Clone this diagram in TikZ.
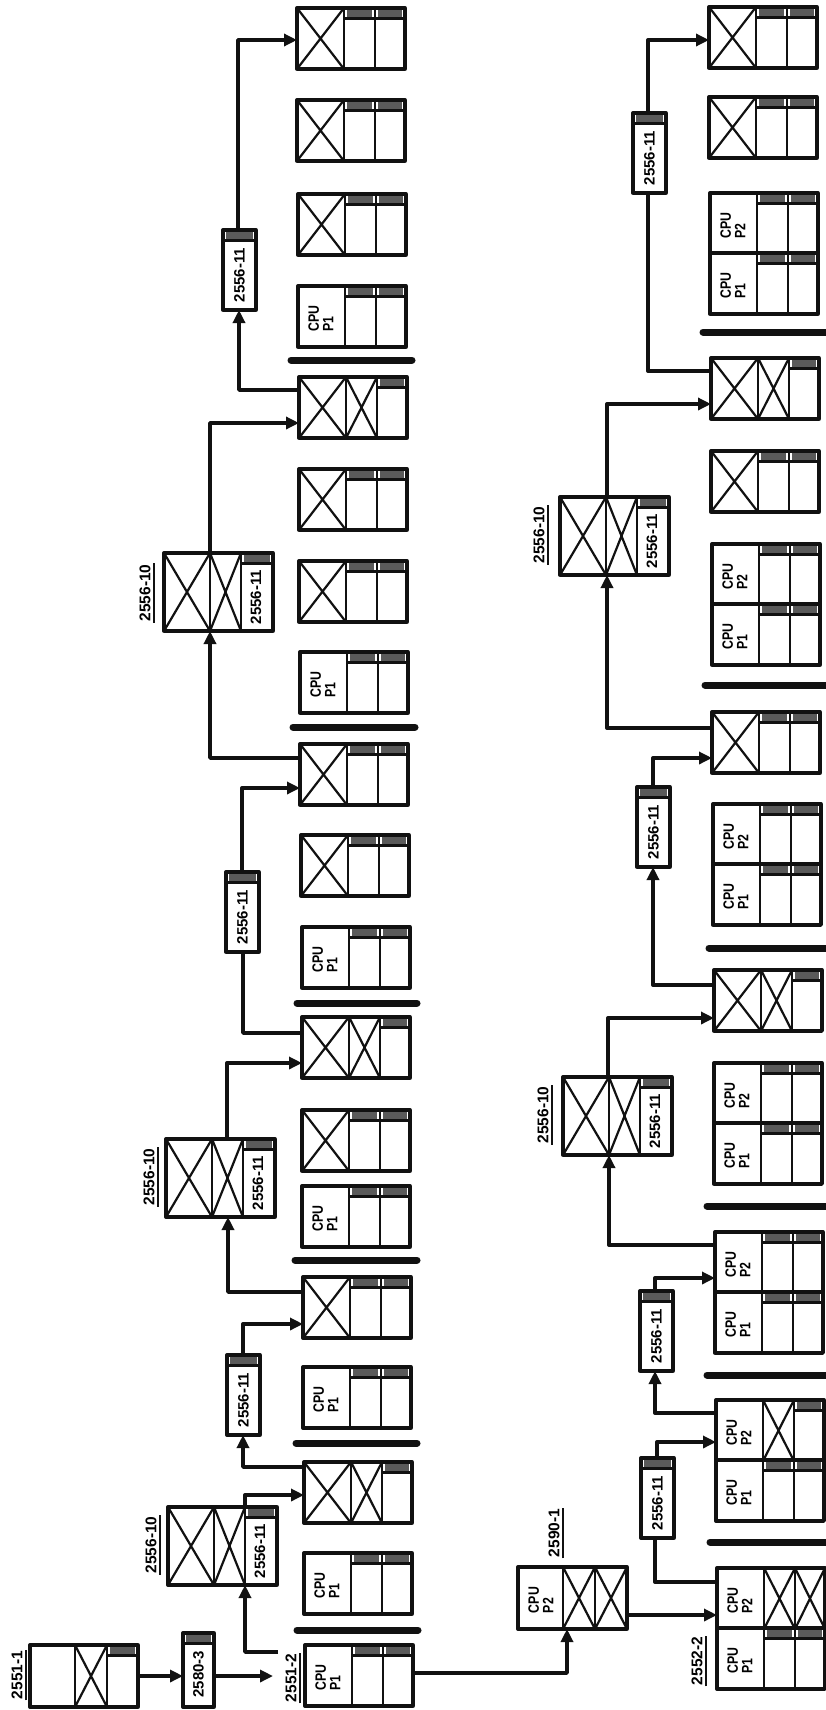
\documentclass[tikz,border=0pt]{standalone}
\usepackage{fontspec}
\setmainfont{Liberation Sans}
\newfontfamily\condfont[FakeStretch=0.82]{Liberation Sans}
\usetikzlibrary{arrows.meta,calc}
\definecolor{ink}{HTML}{111111}
\definecolor{screen}{HTML}{5A5A5A}
\tikzset{
  % ---- racks and boxes -------------------------------------------
  unit/.style     = {draw=ink, line width=3.3pt, line join=round, fill=white,
                     inner sep=0pt, outer sep=0pt, anchor=north west},
  divider/.style  = {draw=ink, line width=2.7pt},
  cross/.style    = {draw=ink, line width=2.2pt},
  screen/.style   = {fill=screen},
  % ---- texts -----------------------------------------------------
  cputext/.style  = {rotate=90, align=left, inner sep=0pt,
                     font=\condfont\bfseries\fontsize{15}{14.5}\selectfont},
  numtext/.style  = {rotate=90, inner sep=0pt,
                     font=\bfseries\fontsize{15}{15}\selectfont},
  tag/.style      = {rotate=90, inner sep=1pt,
                     font=\bfseries\fontsize{15.5}{15.5}\selectfont},
  tagline/.style  = {draw=ink, line width=2.2pt},
  % ---- connectors ------------------------------------------------
  link/.style     = {draw=ink, line width=3.4pt, line join=round,
                     -{Triangle[length=13pt,width=12pt]}},
  plain/.style    = {draw=ink, line width=3.4pt, line join=round},
  bar/.style      = {draw=ink, line width=7pt, line cap=round},
}
% ---- parts of a rack (#1 = node name) ------------------------------
\newcommand{\rkcut}[2]{\draw[divider] ([xshift=#2]#1.north west) -- ([xshift=#2]#1.south west);}
\newcommand{\rkx}[3]{\draw[cross] ([xshift=#2]#1.north west) -- ([xshift=#3]#1.south west)
  ([xshift=#3]#1.north west) -- ([xshift=#2]#1.south west);}
\newcommand{\rkstrip}[3]{\fill[screen] ([xshift=#2+3,yshift=-2]#1.north west) rectangle ([xshift=#3-3,yshift=-9.5]#1.north west);
  \draw[divider] ([xshift=#2,yshift=-10.5]#1.north west) -- ([xshift=#3,yshift=-10.5]#1.north west);}
\newcommand{\rkcpu}[2]{\node[cputext] (#1c) at ([xshift=23,yshift=-2]#1.west) {CPU\\#2};}
\newcommand{\rack}[3]{\node[unit, minimum width=108, minimum height=61] (#1) at (#2,#3) {};
  \rkcut{#1}{47}\rkcut{#1}{78}}
\newcommand{\cpurack}[4]{\rack{#1}{#2}{#3}\rkcpu{#1}{#4}\rkstrip{#1}{47}{78}\rkstrip{#1}{78}{108}}
\newcommand{\xrack}[3]{\rack{#1}{#2}{#3}\rkx{#1}{0}{47}\rkstrip{#1}{47}{78}\rkstrip{#1}{78}{108}}
\newcommand{\xxrack}[3]{\rack{#1}{#2}{#3}\rkx{#1}{0}{47}\rkx{#1}{47}{78}\rkstrip{#1}{78}{108}}
\newcommand{\boxten}[3]{\node[unit, minimum width=109, minimum height=78] (#1) at (#2,#3) {};
  \rkcut{#1}{46}\rkcut{#1}{77}\rkx{#1}{0}{46}\rkx{#1}{46}{77}\rkstrip{#1}{77}{109}
  \node[numtext] (#1n) at ([xshift=92,yshift=-44]#1.north west) {2556-11};}
\newcommand{\boxeleven}[3]{\node[unit, minimum width=33, minimum height=80] (#1) at (#2,#3) {};
  \rkstrip{#1}{0}{33}
  \node[numtext] (#1n) at ([yshift=-5]#1.center) {2556-11};}
\newcommand{\tagat}[4]{\node[tag] (#1) at (#2,#3) {#4};
  \draw[tagline] ([xshift=2]#1.south west) -- ([xshift=2]#1.south east);}

\begin{document}
\begin{tikzpicture}[x=1pt,y=-1pt]
  \useasboundingbox (0,0) rectangle (825,1710);
  % ---- first line of racks -----------------------------------------
  \cpurack{l1}{305}{1645}{P1}
  \cpurack{l2}{304}{1553}{P1}
  \xxrack{l3}{304}{1462}
  \cpurack{l4}{303}{1367}{P1}
  \xrack{l5}{303}{1277}
  \cpurack{l6}{302}{1186}{P1}
  \xrack{l7}{302}{1110}
  \xxrack{l8}{302}{1017}
  \cpurack{l9}{302}{927}{P1}
  \xrack{l10}{301}{835}
  \xrack{l11}{300}{744}
  \cpurack{l12}{300}{652}{P1}
  \xrack{l13}{299}{561}
  \xrack{l14}{299}{469}
  \xxrack{l15}{299}{377}
  \cpurack{l16}{298}{286}{P1}
  \xrack{l17}{298}{194}
  \xrack{l18}{297}{100}
  \xrack{l19}{297}{8}
  \draw[bar] (297,1630) -- (418,1630);
  \draw[bar] (296,1443) -- (417,1443);
  \draw[bar] (295,1260) -- (417,1260);
  \draw[bar] (297,1003) -- (417,1003);
  \draw[bar] (293,727) -- (415,727);
  \draw[bar] (291,360) -- (412,360);
  % ---- second line of racks ----------------------------------------
  \rack{r1}{717}{1568}\rkcpu{r1}{P2}\rkx{r1}{47}{78}\rkx{r1}{78}{108}
  \cpurack{r2}{717}{1628}{P1}
  \rack{r3}{716}{1400}\rkcpu{r3}{P2}\rkx{r3}{47}{78}\rkstrip{r3}{78}{108}
  \cpurack{r4}{716}{1460}{P1}
  \cpurack{r5}{715}{1232}{P2}
  \cpurack{r6}{715}{1292}{P1}
  \cpurack{r7}{714}{1063}{P2}
  \cpurack{r8}{714}{1123}{P1}
  \xxrack{r9}{714}{970}
  \cpurack{r10}{713}{804}{P2}
  \cpurack{r11}{713}{864}{P1}
  \xrack{r12}{712}{712}
  \cpurack{r13}{712}{544}{P2}
  \cpurack{r14}{712}{604}{P1}
  \xrack{r15}{711}{451}
  \xxrack{r16}{711}{358}
  \cpurack{r17}{710}{193}{P2}
  \cpurack{r18}{710}{253}{P1}
  \xrack{r19}{709}{97}
  \xrack{r20}{709}{7}
  \draw[bar] (710,1542) -- (830,1542);
  \draw[bar] (707,1375) -- (830,1375);
  \draw[bar] (707,1206) -- (830,1206);
  \draw[bar] (709,948) -- (830,948);
  \draw[bar] (705,685) -- (830,685);
  \draw[bar] (703,332) -- (830,332);
  % ---- start-up units ----------------------------------------------
  \node[unit, minimum width=108, minimum height=62] (n2551) at (30,1645) {};
  \rkcut{n2551}{45}\rkcut{n2551}{77}\rkx{n2551}{45}{77}\rkstrip{n2551}{77}{108}
  \node[unit, minimum width=31, minimum height=74] (n2580) at (183,1633) {};
  \rkstrip{n2580}{0}{31}
  \node[numtext] (n2580n) at ([yshift=-4]n2580.center) {2580-3};
  \node[unit, minimum width=109, minimum height=62] (n2590) at (518,1567) {};
  \rkcut{n2590}{45}\rkcut{n2590}{77}\rkcpu{n2590}{P2}\rkx{n2590}{45}{77}\rkx{n2590}{77}{109}
  % ---- 2556-10 / 2556-11 units -------------------------------------
  \boxten{ta}{168}{1507}
  \boxten{tb}{166}{1139}
  \boxten{tc}{164}{553}
  \boxten{ua}{563}{1077}
  \boxten{ub}{560}{497}
  \boxeleven{ea}{227}{1355}
  \boxeleven{eb}{226}{872}
  \boxeleven{ec}{223}{230}
  \boxeleven{fa}{641}{1458}
  \boxeleven{fb}{640}{1291}
  \boxeleven{fc}{637}{787}
  \boxeleven{fd}{633}{113}
  % ---- tags --------------------------------------------------------
  \tagat{g2551a}{17}{1675}{2551-1}
  \tagat{g2551b}{291}{1678}{2551-2}
  \tagat{g2590}{554}{1533}{2590-1}
  \tagat{g2552}{697}{1661}{2552-2}
  \tagat{gta}{151}{1545}{2556-10}
  \tagat{gtb}{149}{1177}{2556-10}
  \tagat{gtc}{145}{593}{2556-10}
  \tagat{gua}{543}{1115}{2556-10}
  \tagat{gub}{539}{535}{2556-10}
  % ---- connectors, first line --------------------------------------
  \coordinate (in2551) at (273,1676);
  \coordinate (out2551) at (278,1652);
  \coordinate (p2590) at ([yshift=-48]n2590.north east);
  \draw[link] (n2551.east) -- (n2551.east -| n2580.west);
  \draw[link] (n2551.east -| n2580.east) -- (in2551);
  \draw[link] (out2551) -| ([xshift=77]ta.south west);
  \draw[link] ([xshift=77]ta.north west) |- ([yshift=-33]l3.north west);
  \draw[link] ([yshift=-5]l3.north west) -| ([xshift=16]ea.south west);
  \draw[link] ([xshift=16]ea.north west) |- ([yshift=-47]l5.north west);
  \draw[link] ([yshift=-15]l5.north west) -| ([xshift=62]tb.south west);
  \draw[link] ([xshift=61]tb.north west) |- ([yshift=-46]l8.north west);
  \draw[plain] ([yshift=-16]l8.north west) -| ([xshift=17]eb.south west);
  \draw[link] ([xshift=16]eb.north west) |- ([yshift=-44]l11.north west);
  \draw[link] ([yshift=-14]l11.north west) -| ([xshift=46]tc.south west);
  \draw[link] ([xshift=46]tc.north west) |- ([yshift=-46]l15.north west);
  \draw[link] ([yshift=-13]l15.north west) -| ([xshift=16]ec.south west);
  \draw[link] ([xshift=15]ec.north west) |- ([yshift=-32]l19.north west);
  % ---- connectors, second line -------------------------------------
  \draw[link] ([yshift=-28]l1.north east) -| ([xshift=49]n2590.south west);
  \draw[link] (p2590) -- (p2590 -| r1.west);
  \draw[plain] ([yshift=-14]r1.north west) -| ([xshift=14]fa.south west);
  \draw[link] ([xshift=16]fa.north west) |- ([yshift=-42]r3.north west);
  \draw[link] ([yshift=-13]r3.north west) -| ([xshift=15]fb.south west);
  \draw[link] ([xshift=15]fb.north west) |- ([yshift=-46]r5.north west);
  \draw[link] ([yshift=-13]r5.north west) -| ([xshift=46]ua.south west);
  \draw[link] ([xshift=45]ua.north west) |- ([yshift=-48]r9.north west);
  \draw[link] ([yshift=-15]r9.north west) -| ([xshift=16]fc.south west);
  \draw[link] ([xshift=16]fc.north west) |- ([yshift=-46]r12.north west);
  \draw[link] ([yshift=-16]r12.north west) -| ([xshift=47]ub.south west);
  \draw[link] ([xshift=47]ub.north west) |- ([yshift=-46]r16.north west);
  \draw[plain] ([yshift=-13]r16.north west) -| ([xshift=15]fd.south west);
  \draw[link] ([xshift=15]fd.north west) |- ([yshift=-33]r20.north west);
\end{tikzpicture}
\end{document}
